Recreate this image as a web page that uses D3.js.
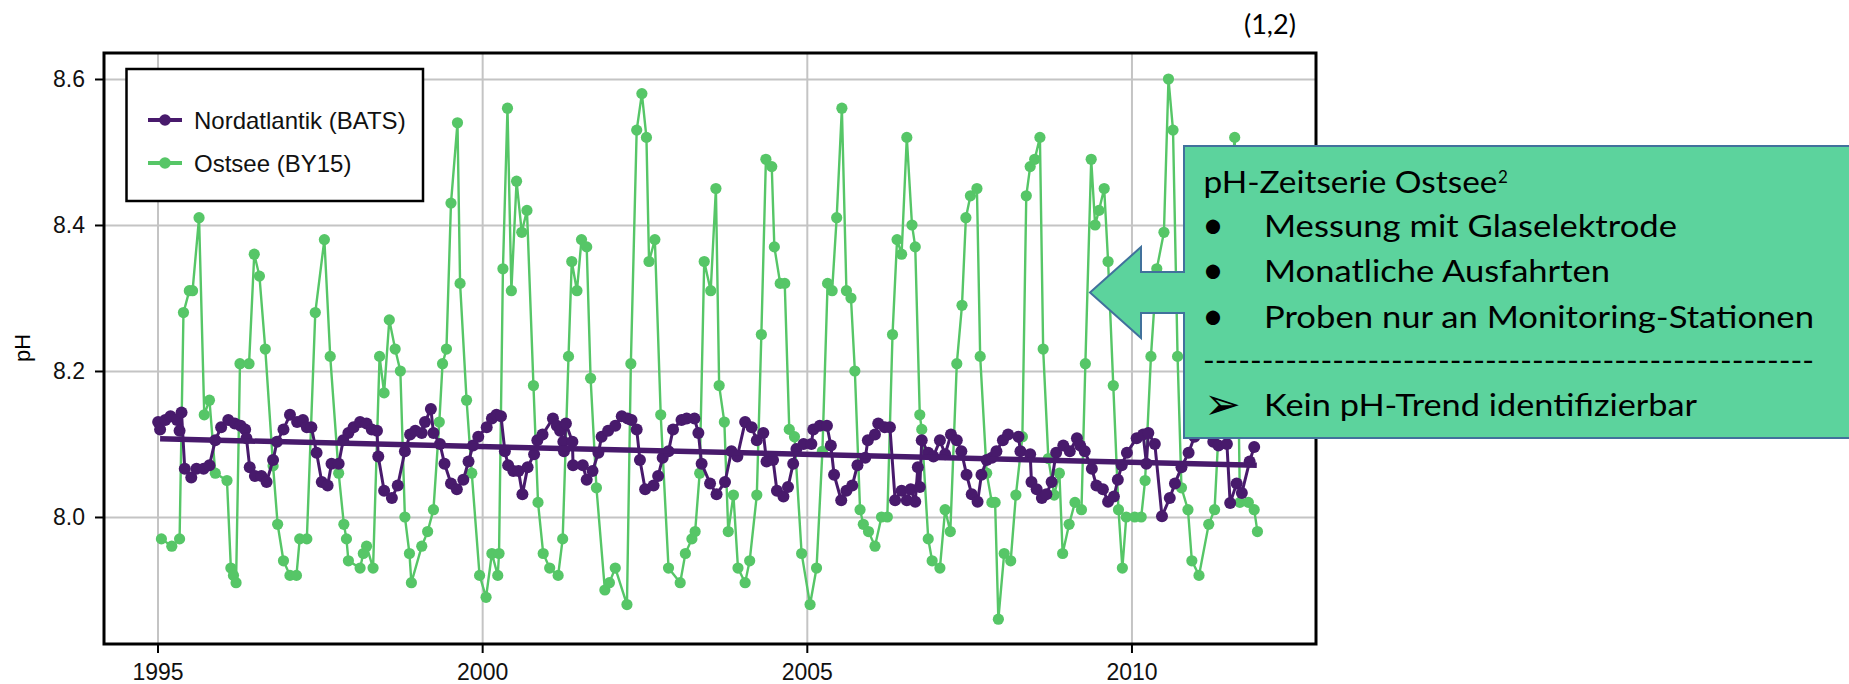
<!DOCTYPE html>
<html lang="de">
<head>
<meta charset="UTF-8" />
<title>pH Nordatlantik / Ostsee</title>
<script src="https://d3js.org/d3.v7.min.js"></script>
<style>
  body { margin: 0; background: #fff; }
  .tick text { font-family: "Liberation Sans", Arial, sans-serif; font-size: 23px; fill: #111; }
  .callout text { font-family: Lato, "Open Sans", sans-serif; fill: #000; }
</style>
</head>
<body>
<svg id="chart" width="1849" height="684"></svg>
<script>
// Zeitachse und Werte
const xTicks = [1995, 2000, 2005, 2010];
const yTicks = [8.0, 8.2, 8.4, 8.6];
const seriesNames = ["Nordatlantik (BATS)", "Ostsee (BY15)"];

// BATS: [Jahr, pH]
const bats = [
  [1995.01,8.130],[1995.04,8.120],[1995.12,8.133],[1995.20,8.138],[1995.30,8.133],[1995.34,8.118],[1995.37,8.143],
  [1995.42,8.066],[1995.52,8.054],[1995.60,8.066],[1995.71,8.066],[1995.80,8.071],[1995.89,8.105],[1995.98,8.123],
  [1996.09,8.133],[1996.19,8.128],[1996.28,8.125],[1996.35,8.120],[1996.37,8.108],[1996.42,8.068],[1996.50,8.056],
  [1996.60,8.056],[1996.68,8.048],[1996.78,8.078],[1996.84,8.103],[1996.94,8.120],[1997.04,8.140],[1997.15,8.130],
  [1997.24,8.133],[1997.30,8.123],[1997.37,8.123],[1997.45,8.088],[1997.53,8.048],[1997.62,8.043],[1997.68,8.073],
  [1997.79,8.073],[1997.86,8.105],[1997.94,8.115],[1998.02,8.123],[1998.12,8.130],[1998.22,8.128],[1998.30,8.120],
  [1998.38,8.118],[1998.40,8.083],[1998.49,8.036],[1998.61,8.026],[1998.70,8.043],[1998.81,8.090],[1998.89,8.113],
  [1998.97,8.118],[1999.07,8.115],[1999.12,8.130],[1999.21,8.148],[1999.25,8.115],[1999.35,8.100],[1999.42,8.073],
  [1999.52,8.046],[1999.61,8.038],[1999.71,8.051],[1999.79,8.076],[1999.86,8.098],[1999.94,8.110],[2000.07,8.123],
  [2000.15,8.135],[2000.22,8.140],[2000.29,8.138],[2000.35,8.090],[2000.40,8.071],[2000.48,8.063],[2000.56,8.063],
  [2000.62,8.031],[2000.70,8.068],[2000.80,8.086],[2000.85,8.105],[2000.93,8.113],[2001.09,8.135],[2001.15,8.125],
  [2001.20,8.118],[2001.25,8.103],[2001.26,8.090],[2001.29,8.128],[2001.39,8.103],[2001.40,8.071],[2001.55,8.071],
  [2001.61,8.051],[2001.70,8.063],[2001.79,8.088],[2001.84,8.110],[2001.94,8.118],[2002.05,8.125],[2002.15,8.138],
  [2002.24,8.135],[2002.30,8.133],[2002.38,8.120],[2002.43,8.078],[2002.51,8.038],[2002.64,8.043],[2002.71,8.056],
  [2002.78,8.081],[2002.87,8.090],[2002.94,8.120],[2003.07,8.133],[2003.15,8.135],[2003.27,8.135],[2003.33,8.115],
  [2003.38,8.073],[2003.51,8.046],[2003.61,8.031],[2003.74,8.048],[2003.84,8.090],[2003.93,8.083],[2004.05,8.130],
  [2004.15,8.123],[2004.23,8.105],[2004.33,8.115],[2004.38,8.076],[2004.48,8.078],[2004.54,8.036],[2004.64,8.028],
  [2004.71,8.041],[2004.79,8.073],[2004.84,8.093],[2004.95,8.100],[2005.07,8.100],[2005.10,8.120],[2005.20,8.125],
  [2005.31,8.125],[2005.37,8.098],[2005.42,8.058],[2005.53,8.023],[2005.61,8.036],[2005.70,8.043],[2005.78,8.071],
  [2005.90,8.081],[2005.94,8.105],[2006.05,8.113],[2006.10,8.128],[2006.20,8.123],[2006.28,8.123],[2006.36,8.023],
  [2006.46,8.036],[2006.54,8.023],[2006.60,8.038],[2006.67,8.021],[2006.71,8.068],[2006.74,8.041],[2006.77,8.105],
  [2006.87,8.088],[2006.95,8.083],[2007.05,8.105],[2007.13,8.086],[2007.22,8.113],[2007.31,8.105],[2007.38,8.090],
  [2007.46,8.058],[2007.54,8.031],[2007.63,8.021],[2007.69,8.058],[2007.77,8.078],[2007.85,8.081],[2007.92,8.090],
  [2008.02,8.105],[2008.10,8.113],[2008.26,8.110],[2008.29,8.090],[2008.44,8.086],[2008.46,8.048],[2008.54,8.038],
  [2008.62,8.026],[2008.69,8.031],[2008.77,8.048],[2008.84,8.088],[2008.95,8.098],[2009.05,8.090],[2009.16,8.108],
  [2009.21,8.098],[2009.28,8.090],[2009.39,8.066],[2009.46,8.043],[2009.56,8.038],[2009.64,8.021],[2009.73,8.028],
  [2009.79,8.051],[2009.85,8.071],[2009.93,8.088],[2010.08,8.108],[2010.18,8.113],[2010.23,8.073],[2010.26,8.115],
  [2010.36,8.100],[2010.47,8.001],[2010.59,8.026],[2010.67,8.046],[2010.77,8.068],[2010.88,8.088],[2010.97,8.110],
  [2011.07,8.120],[2011.17,8.125],[2011.26,8.103],[2011.34,8.098],[2011.47,8.100],[2011.52,8.019],[2011.62,8.046],
  [2011.70,8.033],[2011.82,8.076],[2011.89,8.096]
];

// Ostsee BY15: [Jahr, pH]
const ostsee = [
  [1995.06,7.97],[1995.22,7.96],[1995.34,7.97],[1995.40,8.28],[1995.49,8.31],[1995.54,8.31],[1995.64,8.41],
  [1995.72,8.14],[1995.80,8.16],[1995.89,8.06],[1996.07,8.05],[1996.13,7.93],[1996.17,7.92],[1996.21,7.91],
  [1996.27,8.21],[1996.41,8.21],[1996.49,8.36],[1996.57,8.33],[1996.66,8.23],[1996.78,8.07],[1996.85,7.99],
  [1996.94,7.94],[1997.04,7.92],[1997.14,7.92],[1997.19,7.97],[1997.30,7.97],[1997.43,8.28],[1997.57,8.38],
  [1997.66,8.22],[1997.79,8.06],[1997.87,7.99],[1997.91,7.97],[1997.94,7.94],[1998.12,7.93],[1998.17,7.95],
  [1998.22,7.96],[1998.32,7.93],[1998.42,8.22],[1998.49,8.17],[1998.57,8.27],[1998.66,8.23],[1998.74,8.20],
  [1998.81,8.00],[1998.88,7.95],[1998.91,7.91],[1999.07,7.96],[1999.16,7.98],[1999.25,8.01],[1999.34,8.13],
  [1999.39,8.21],[1999.45,8.23],[1999.52,8.43],[1999.62,8.54],[1999.66,8.32],[1999.76,8.16],[1999.84,8.06],
  [1999.96,7.92],[2000.06,7.89],[2000.15,7.95],[2000.24,7.92],[2000.26,7.95],[2000.32,8.34],[2000.39,8.56],
  [2000.45,8.31],[2000.53,8.46],[2000.61,8.39],[2000.69,8.42],[2000.79,8.18],[2000.86,8.02],[2000.94,7.95],
  [2001.04,7.93],[2001.17,7.92],[2001.24,7.97],[2001.33,8.22],[2001.38,8.35],[2001.46,8.31],[2001.53,8.38],
  [2001.61,8.37],[2001.67,8.19],[2001.76,8.04],[2001.89,7.90],[2001.96,7.91],[2002.05,7.93],[2002.23,7.88],
  [2002.29,8.21],[2002.38,8.53],[2002.46,8.58],[2002.53,8.52],[2002.57,8.35],[2002.66,8.38],[2002.75,8.14],
  [2002.87,7.93],[2003.05,7.91],[2003.13,7.95],[2003.23,7.97],[2003.28,7.98],[2003.35,8.06],[2003.42,8.35],
  [2003.52,8.31],[2003.60,8.45],[2003.65,8.18],[2003.73,8.13],[2003.79,7.98],[2003.87,8.03],[2003.94,7.93],
  [2004.05,7.91],[2004.12,7.94],[2004.23,8.03],[2004.30,8.25],[2004.37,8.49],[2004.46,8.48],[2004.50,8.37],
  [2004.59,8.32],[2004.66,8.32],[2004.73,8.12],[2004.81,8.11],[2004.92,7.95],[2005.05,7.88],[2005.15,7.93],
  [2005.24,8.09],[2005.32,8.32],[2005.39,8.31],[2005.46,8.41],[2005.54,8.56],[2005.61,8.31],[2005.68,8.30],
  [2005.74,8.20],[2005.82,8.01],[2005.87,7.99],[2005.95,7.98],[2006.05,7.96],[2006.15,8.00],[2006.24,8.00],
  [2006.32,8.25],[2006.39,8.38],[2006.46,8.36],[2006.54,8.52],[2006.62,8.40],[2006.67,8.37],[2006.74,8.14],
  [2006.77,8.12],[2006.87,7.97],[2006.93,7.94],[2007.05,7.93],[2007.13,8.01],[2007.21,7.98],[2007.31,8.21],
  [2007.39,8.29],[2007.45,8.41],[2007.52,8.44],[2007.62,8.45],[2007.67,8.22],[2007.77,8.06],[2007.85,8.02],
  [2007.90,8.02],[2007.95,7.86],[2008.04,7.95],[2008.14,7.94],[2008.22,8.03],[2008.32,8.11],[2008.38,8.44],
  [2008.44,8.48],[2008.51,8.49],[2008.59,8.52],[2008.64,8.23],[2008.72,8.08],[2008.81,8.03],[2008.89,8.06],
  [2008.94,7.95],[2009.04,7.99],[2009.13,8.02],[2009.23,8.01],[2009.29,8.21],[2009.38,8.49],[2009.44,8.40],
  [2009.50,8.42],[2009.58,8.45],[2009.64,8.35],[2009.72,8.18],[2009.80,8.01],[2009.86,7.93],[2009.92,8.00],
  [2010.05,8.00],[2010.15,8.00],[2010.21,8.05],[2010.30,8.22],[2010.39,8.34],[2010.50,8.39],[2010.57,8.60],
  [2010.64,8.53],[2010.71,8.22],[2010.77,8.04],[2010.87,8.01],[2010.93,7.94],[2011.04,7.92],[2011.19,7.99],
  [2011.28,8.01],[2011.36,8.15],[2011.44,8.38],[2011.52,8.44],[2011.59,8.52],[2011.63,8.28],[2011.67,8.02],
  [2011.80,8.02],[2011.89,8.01],[2011.94,7.98]
];

// linearer Trend BATS (Endpunkte)
const batsTrend = [[1995.04, 8.107], [2011.93, 8.071]];

const calloutLines = [
  "Messung mit Glaselektrode",
  "Monatliche Ausfahrten",
  "Proben nur an Monitoring-Stationen"
];

const purple = "#481a6c", green = "#56c667";

const svg = d3.select("#chart");
const plotLeft = 104, plotRight = 1316, plotTop = 53, plotBottom = 644;

const x = d3.scaleLinear().domain([1994.176, 2012.842]).range([plotLeft, plotRight]);
const y = d3.scaleLinear().domain([7.826, 8.6356]).range([plotBottom, plotTop]);

// Gitter
svg.append("g")
  .attr("transform", `translate(0,${plotBottom})`)
  .call(d3.axisBottom(x).tickValues(xTicks).tickSize(-(plotBottom - plotTop)).tickFormat(""))
  .call(g => g.select(".domain").remove())
  .call(g => g.selectAll("line").attr("stroke", "#c4c4c4").attr("stroke-width", 2));
svg.append("g")
  .attr("transform", `translate(${plotLeft},0)`)
  .call(d3.axisLeft(y).tickValues(yTicks).tickSize(-(plotRight - plotLeft)).tickFormat(""))
  .call(g => g.select(".domain").remove())
  .call(g => g.selectAll("line").attr("stroke", "#c4c4c4").attr("stroke-width", 2));

// Achsen
svg.append("g")
  .attr("transform", `translate(0,${plotBottom})`)
  .call(d3.axisBottom(x).tickValues(xTicks).tickSize(9).tickPadding(11).tickFormat(d3.format("d")))
  .call(g => g.select(".domain").remove())
  .call(g => g.selectAll("line").attr("stroke", "#000").attr("stroke-width", 2));
svg.append("g")
  .attr("transform", `translate(${plotLeft},0)`)
  .call(d3.axisLeft(y).tickValues(yTicks).tickSize(9).tickPadding(10).tickFormat(d3.format(".1f")))
  .call(g => g.select(".domain").remove())
  .call(g => g.selectAll("line").attr("stroke", "#000").attr("stroke-width", 2));

svg.append("text")
  .attr("transform", "translate(30,348) rotate(-90)")
  .attr("text-anchor", "middle")
  .style("font-family", "'Liberation Sans', Arial, sans-serif")
  .style("font-size", "22px")
  .text("pH");

const line = d3.line().x(d => x(d[0])).y(d => y(d[1]));
const plot = svg.append("g");

// Ostsee
plot.append("path").datum(ostsee).attr("d", line)
  .attr("fill", "none").attr("stroke", green).attr("stroke-width", 2.4);
plot.selectAll("circle.ost").data(ostsee).join("circle").attr("class", "ost")
  .attr("cx", d => x(d[0])).attr("cy", d => y(d[1])).attr("r", 5.6).attr("fill", green);

// BATS
plot.append("path").datum(bats).attr("d", line)
  .attr("fill", "none").attr("stroke", purple).attr("stroke-width", 3);
plot.selectAll("circle.bats").data(bats).join("circle").attr("class", "bats")
  .attr("cx", d => x(d[0])).attr("cy", d => y(d[1])).attr("r", 6).attr("fill", purple);

plot.append("path").datum(batsTrend).attr("d", line)
  .attr("fill", "none").attr("stroke", purple).attr("stroke-width", 5.5);

// Legende
const lg = svg.append("g");
lg.append("rect").attr("x", 126.5).attr("y", 69).attr("width", 296.5).attr("height", 132)
  .attr("fill", "#fff").attr("stroke", "#000").attr("stroke-width", 2.5);
[purple, green].forEach((c, i) => {
  const yy = 120 + i * 43;
  lg.append("line").attr("x1", 148).attr("x2", 182).attr("y1", yy).attr("y2", yy)
    .attr("stroke", c).attr("stroke-width", 4);
  lg.append("circle").attr("cx", 165).attr("cy", yy).attr("r", 5.8).attr("fill", c);
  lg.append("text").attr("x", 194).attr("y", yy + 8.5)
    .style("font-family", "'Liberation Sans', Arial, sans-serif").style("font-size", "24px")
    .attr("fill", "#111").text(seriesNames[i]);
});

// Rahmen
svg.append("rect").attr("x", plotLeft).attr("y", plotTop)
  .attr("width", plotRight - plotLeft).attr("height", plotBottom - plotTop)
  .attr("fill", "none").attr("stroke", "#000").attr("stroke-width", 3);

// Quellenangabe
svg.append("text").attr("x", 1244).attr("y", 34)
  .style("font-family", "Lato, 'Open Sans', sans-serif").style("font-size", "27px")
  .text("(1,2)");

// Legenden-Pfeil mit Text
const co = svg.append("g").attr("class", "callout");
co.append("path")
  .attr("d", "M1184,146 L1853,146 L1853,438 L1184,438 L1184,313 L1141,313 L1141,338 L1090,292.5 L1141,247 L1141,272 L1184,272 Z")
  .attr("fill", "#5cd39d").attr("stroke", "#41719c").attr("stroke-width", 2);

co.append("text").attr("x", 1203.5).attr("y", 193).style("font-size", "31px")
  .attr("textLength", 294).attr("lengthAdjust", "spacingAndGlyphs").text("pH-Zeitserie Ostsee");
co.append("text").attr("x", 1498).attr("y", 183).style("font-size", "17px").text("2");

const widths = [413, 346, 550];
calloutLines.forEach((s, i) => {
  const by = 237 + i * 45.3;
  co.append("text").attr("x", 1202).attr("y", by + 1).style("font-size", "38px").text("•");
  co.append("text").attr("x", 1264).attr("y", by).style("font-size", "31px")
    .attr("textLength", widths[i]).attr("lengthAdjust", "spacingAndGlyphs").text(s);
});
co.append("text").attr("x", 1203).attr("y", 371).style("font-size", "31px")
  .attr("textLength", 611).attr("lengthAdjust", "spacingAndGlyphs")
  .text("-".repeat(52));
co.append("text").attr("x", 1204).attr("y", 419)
  .style("font-family", "'DejaVu Sans', sans-serif").style("font-size", "44px").text("➢");
co.append("text").attr("x", 1264).attr("y", 416).style("font-size", "31px")
  .attr("textLength", 433).attr("lengthAdjust", "spacingAndGlyphs").text("Kein pH-Trend identifizierbar");
</script>
</body>
</html>
